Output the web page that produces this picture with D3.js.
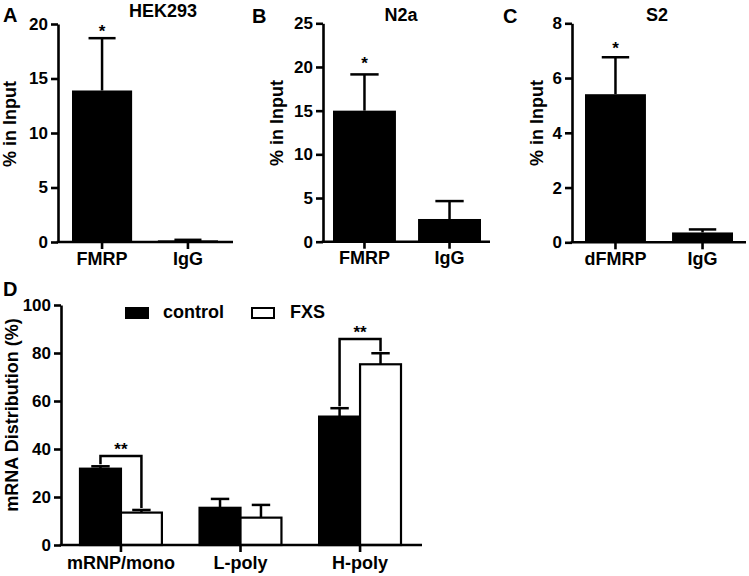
<!DOCTYPE html>
<html lang="en">
<head>
<meta charset="utf-8">
<title>FMRP binding and mRNA distribution</title>
<script src="https://d3js.org/d3.v7.min.js"></script>
<style>
  body { margin: 0; background: #fff; }
  svg text { font-family: "Liberation Sans", Arial, sans-serif; font-weight: bold; fill: #000; }
  .axis path, .axis line { stroke: #000; stroke-width: 2.6; }
  .axis text { font-size: 17px; }
</style>
</head>
<body>
<svg id="chart" width="749" height="576"></svg>
<script>
// panel A - HEK293
var hekLabels = ["FMRP", "IgG"];
var hekMeans = [13.9, 0.15];
var hekErrors = [4.8, 0.05];
var hekStarY = [18.8, null];
var hekTicks = [0, 5, 10, 15, 20];

// panel B - N2a
var n2aLabels = ["FMRP", "IgG"];
var n2aMeans = [15.0, 2.6];
var n2aErrors = [4.15, 2.05];
var n2aStarY = [19.8, null];
var n2aTicks = [0, 5, 10, 15, 20, 25];

// panel C - S2
var s2Labels = ["dFMRP", "IgG"];
var s2Means = [5.41, 0.36];
var s2Errors = [1.35, 0.11];
var s2StarY = [6.88, null];
var s2Ticks = [0, 2, 4, 6, 8];

// panel D - polysome distribution
var fractions = ["mRNP/mono", "L-poly", "H-poly"];
var groups = ["control", "FXS"];
var controlMeans = [31.8, 15.5, 53.5];
var controlErrors = [1.0, 3.7, 3.5];
var fxsMeans = [13.5, 11.4, 75.3];
var fxsErrors = [1.1, 5.3, 4.6];
var bracketY = [37.1, null, 85.8]; // "**" brackets
var distTicks = [0, 20, 40, 60, 80, 100];

var svg = d3.select("#chart");

function drawSimplePanel(p) {
    var g = svg.append("g");

    var y = d3.scaleLinear()
        .domain([0, d3.max(p.ticks)])
        .range([p.bottom, p.top]);

    var x = d3.scaleBand()
        .domain(p.labels)
        .range([p.barStart, p.barEnd])
        .paddingInner(p.pad)
        .paddingOuter(0);

    var rows = p.labels.map(function(d, i) {
        return {label: d, mean: p.means[i], err: p.errors[i], star: p.starY[i]};
    });

    // bars
    g.selectAll(".bar")
        .data(rows)
        .enter().append("rect")
        .attr("x", function(d) { return x(d.label); })
        .attr("y", function(d) { return y(d.mean); })
        .attr("width", x.bandwidth())
        .attr("height", function(d) { return y(0) - y(d.mean); })
        .attr("fill", "#000");

    // error bars (upper only)
    var cap = x.bandwidth() * 0.45;
    rows.forEach(function(d) {
        var cx = x(d.label) + x.bandwidth() / 2;
        g.append("line")
            .attr("x1", cx).attr("x2", cx)
            .attr("y1", y(d.mean)).attr("y2", y(d.mean + d.err))
            .attr("stroke", "#000").attr("stroke-width", 2.5);
        g.append("line")
            .attr("x1", cx - cap / 2).attr("x2", cx + cap / 2)
            .attr("y1", y(d.mean + d.err)).attr("y2", y(d.mean + d.err))
            .attr("stroke", "#000").attr("stroke-width", 2.5);
        if (d.star != null) {
            g.append("text")
                .attr("x", cx)
                .attr("y", y(d.star))
                .attr("text-anchor", "middle")
                .style("font-size", "17px")
                .text("*");
        }
    });

    // y axis
    g.append("g")
        .attr("class", "axis")
        .attr("transform", "translate(" + p.left + ",0)")
        .call(d3.axisLeft(y).tickValues(p.ticks).tickSize(7).tickSizeOuter(0).tickPadding(3));

    // x axis: baseline from y axis to the end, ticks under bars
    var xa = g.append("g")
        .attr("class", "axis")
        .attr("transform", "translate(0," + p.bottom + ")")
        .call(d3.axisBottom(x).tickSize(7).tickPadding(3));
    xa.select(".domain").remove();
    xa.selectAll("text").style("font-size", "18px");
    g.append("line")
        .attr("x1", p.left - 1.3).attr("x2", p.axisEnd)
        .attr("y1", p.bottom).attr("y2", p.bottom)
        .attr("stroke", "#000").attr("stroke-width", 2.6);

    // titles and labels
    g.append("text")
        .attr("x", p.titleX).attr("y", p.titleY)
        .attr("text-anchor", "middle")
        .style("font-size", "18px")
        .text(p.title);
    g.append("text")
        .attr("x", p.letterX).attr("y", p.letterY)
        .style("font-size", "20px")
        .text(p.letter);
    g.append("text")
        .attr("transform", "translate(" + p.ylabelX + "," + p.ylabelY + ") rotate(-90)")
        .attr("text-anchor", "middle")
        .attr("dy", "0.35em")
        .style("font-size", "18px")
        .text("% in Input");
}

drawSimplePanel({
    labels: hekLabels, means: hekMeans, errors: hekErrors, starY: hekStarY, ticks: hekTicks,
    left: 58, top: 24, bottom: 242, barStart: 72, barEnd: 218, pad: 0.3, axisEnd: 233,
    title: "HEK293", titleX: 163, titleY: 17, letter: "A", letterX: 3, letterY: 22,
    ylabelX: 10, ylabelY: 124
});

drawSimplePanel({
    labels: n2aLabels, means: n2aMeans, errors: n2aErrors, starY: n2aStarY, ticks: n2aTicks,
    left: 323, top: 23.3, bottom: 241.7, barStart: 333, barEnd: 481, pad: 0.26, axisEnd: 490,
    title: "N2a", titleX: 401, titleY: 21, letter: "B", letterX: 252, letterY: 23,
    ylabelX: 277, ylabelY: 123
});

drawSimplePanel({
    labels: s2Labels, means: s2Means, errors: s2Errors, starY: s2StarY, ticks: s2Ticks,
    left: 572, top: 23.3, bottom: 242.3, barStart: 585, barEnd: 733, pad: 0.3, axisEnd: 746,
    title: "S2", titleX: 657, titleY: 21, letter: "C", letterX: 503, letterY: 23,
    ylabelX: 537, ylabelY: 123
});

// ---- panel D ----
var dLeft = 61, dTop = 305, dBottom = 545, dEnd = 422;
var gd = svg.append("g");

var yD = d3.scaleLinear().domain([0, 100]).range([dBottom, dTop]);
var x0 = d3.scaleBand().domain(fractions).range([80, 401]).paddingInner(0.315).paddingOuter(0);
var x1 = d3.scaleBand().domain(groups).range([0, x0.bandwidth()]).padding(0);

var dRows = [];
fractions.forEach(function(f, i) {
    dRows.push({fraction: f, group: "control", mean: controlMeans[i], err: controlErrors[i]});
    dRows.push({fraction: f, group: "FXS", mean: fxsMeans[i], err: fxsErrors[i]});
});
var fillFor = {control: "#000", FXS: "#fff"};

gd.selectAll(".dbar")
    .data(dRows)
    .enter().append("rect")
    .attr("x", function(d) { return x0(d.fraction) + x1(d.group); })
    .attr("y", function(d) { return yD(d.mean); })
    .attr("width", x1.bandwidth())
    .attr("height", function(d) { return yD(0) - yD(d.mean); })
    .attr("fill", function(d) { return fillFor[d.group]; })
    .attr("stroke", "#000")
    .attr("stroke-width", 2.2);

var capD = x1.bandwidth() * 0.45;
dRows.forEach(function(d) {
    var cx = x0(d.fraction) + x1(d.group) + x1.bandwidth() / 2;
    gd.append("line")
        .attr("x1", cx).attr("x2", cx)
        .attr("y1", yD(d.mean)).attr("y2", yD(d.mean + d.err))
        .attr("stroke", "#000").attr("stroke-width", 2.5);
    gd.append("line")
        .attr("x1", cx - capD / 2).attr("x2", cx + capD / 2)
        .attr("y1", yD(d.mean + d.err)).attr("y2", yD(d.mean + d.err))
        .attr("stroke", "#000").attr("stroke-width", 2.5);
});

// significance brackets
fractions.forEach(function(f, i) {
    if (bracketY[i] == null) return;
    var xl = x0(f) + x1("control") + x1.bandwidth() / 2;
    var xr = x0(f) + x1("FXS") + x1.bandwidth() / 2;
    var yl = yD(controlMeans[i] + controlErrors[i]) - 2;
    var yr = yD(fxsMeans[i] + fxsErrors[i]) - 2;
    var yb = yD(bracketY[i]);
    gd.append("path")
        .attr("d", "M" + xl + "," + yl + "V" + yb + "H" + xr + "V" + yr)
        .attr("fill", "none")
        .attr("stroke", "#000")
        .attr("stroke-width", 2.5);
    gd.append("text")
        .attr("x", (xl + xr) / 2)
        .attr("y", yb - 1)
        .attr("text-anchor", "middle")
        .style("font-size", "17px")
        .text("**");
});

gd.append("g")
    .attr("class", "axis")
    .attr("transform", "translate(" + dLeft + ",0)")
    .call(d3.axisLeft(yD).tickValues(distTicks).tickSize(7).tickSizeOuter(0).tickPadding(3));

var xaD = gd.append("g")
    .attr("class", "axis")
    .attr("transform", "translate(0," + dBottom + ")")
    .call(d3.axisBottom(x0).tickSize(7).tickPadding(4));
xaD.select(".domain").remove();
xaD.selectAll("text").style("font-size", "18px");
gd.append("line")
    .attr("x1", dLeft - 1.3).attr("x2", dEnd)
    .attr("y1", dBottom).attr("y2", dBottom)
    .attr("stroke", "#000").attr("stroke-width", 2.6);

gd.append("text")
    .attr("transform", "translate(12,415) rotate(-90)")
    .attr("text-anchor", "middle")
    .attr("dy", "0.35em")
    .style("font-size", "18px")
    .text("mRNA Distribution (%)");

gd.append("text")
    .attr("x", 3).attr("y", 296)
    .style("font-size", "20px")
    .text("D");

// legend
var legendX = [126, 252];
var legendTextX = [163, 290];
groups.forEach(function(gname, i) {
    gd.append("rect")
        .attr("x", legendX[i]).attr("y", 308)
        .attr("width", 22).attr("height", 10)
        .attr("fill", fillFor[gname])
        .attr("stroke", "#000")
        .attr("stroke-width", 2);
    gd.append("text")
        .attr("x", legendTextX[i]).attr("y", 318)
        .style("font-size", "18px")
        .text(gname);
});
</script>
</body>
</html>
